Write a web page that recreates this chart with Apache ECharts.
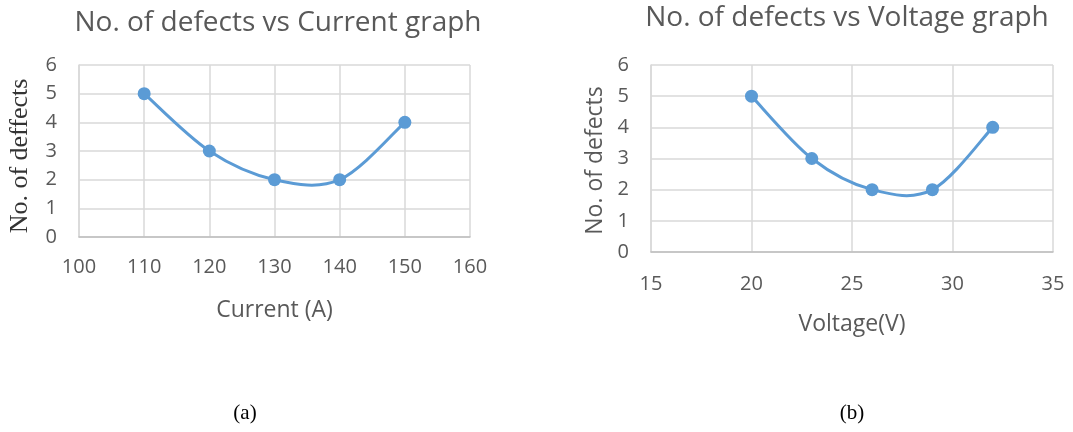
<!DOCTYPE html>
<html>
<head>
<meta charset="utf-8">
<script src="https://cdn.jsdelivr.net/npm/echarts@6/dist/echarts.min.js"></script>
<style>
html,body{margin:0;padding:0;background:#fff;}
#c{width:1073px;height:432px;}
</style>
</head>
<body>
<div id="c"></div>
<script>
var currentValues = [110, 120, 130, 140, 150];
var defectsByCurrent = [5, 3, 2, 2, 4];
var voltageValues = [20, 23, 26, 29, 32];
var defectsByVoltage = [5, 3, 2, 2, 4];
var titles = ['No. of defects vs Current graph', 'No. of defects vs Voltage graph'];
var xNames = ['Current (A)', 'Voltage(V)'];
var yNames = ['No. of deffects', 'No. of defects'];
var captions = ['(a)', '(b)'];

var TXT = '#595959', GRID = '#D9D9D9', BLUE = '#5B9BD5';
var SANS = '"Open Sans", "Liberation Sans", sans-serif';
var SERIF = '"Liberation Serif", "DejaVu Serif", serif';

function pairs(xs, ys) { return xs.map(function (x, i) { return [x, ys[i]]; }); }

function xAxisCfg(idx, min, max, interval, name, margin, gap) {
  return {
    gridIndex: idx, type: 'value', min: min, max: max, interval: interval,
    name: name, nameLocation: 'middle', nameGap: gap,
    nameTextStyle: { color: TXT, fontSize: 23, fontFamily: SANS },
    axisLine: { show: true, lineStyle: { color: '#BFBFBF', width: 1.5 } },
    axisTick: { show: false },
    axisLabel: { color: TXT, fontSize: 20, fontFamily: SANS, margin: margin },
    splitLine: { show: true, lineStyle: { color: GRID, width: 1.5 } }
  };
}
function yAxisCfg(idx, name, serif, gap) {
  return {
    gridIndex: idx, type: 'value', min: 0, max: 6, interval: 1,
    name: name, nameLocation: 'middle', nameGap: gap, nameRotate: 90,
    nameTextStyle: serif
      ? { color: '#333', fontSize: 26, fontFamily: SERIF, padding: [0, 10, 0, 0] }
      : { color: TXT, fontSize: 23, fontFamily: SANS, padding: [0, 4, 0, 0] },
    axisLine: { show: true, lineStyle: { color: GRID, width: 1.5 } },
    axisTick: { show: false },
    axisLabel: { color: TXT, fontSize: 20, fontFamily: SANS, margin: 22 },
    splitLine: { show: true, lineStyle: { color: GRID, width: 1.5 } }
  };
}

// Smoothed curve (Excel-style cardinal spline) drawn through the axes' coordinate system
function curveSeries(idx, xs, ys) {
  return {
    type: 'custom', xAxisIndex: idx, yAxisIndex: idx, data: pairs(xs, ys),
    z: 2, silent: true,
    renderItem: function (params, api) {
      var i = params.dataIndex, n = xs.length;
      if (i >= n - 1) return null;
      var P = function (k) { k = Math.max(0, Math.min(n - 1, k)); return api.coord([xs[k], ys[k]]); };
      var p0 = P(i - 1), p1 = P(i), p2 = P(i + 1), p3 = P(i + 2);
      var t = 1 / 6;
      return {
        type: 'bezierCurve',
        shape: {
          x1: p1[0], y1: p1[1], x2: p2[0], y2: p2[1],
          cpx1: p1[0] + (p2[0] - p0[0]) * t, cpy1: p1[1] + (p2[1] - p0[1]) * t,
          cpx2: p2[0] - (p3[0] - p1[0]) * t, cpy2: p2[1] - (p3[1] - p1[1]) * t
        },
        style: { stroke: BLUE, lineWidth: 3, fill: null }
      };
    }
  };
}
function markerSeries(idx, xs, ys) {
  return {
    type: 'scatter', xAxisIndex: idx, yAxisIndex: idx, data: pairs(xs, ys),
    z: 3, symbol: 'circle', symbolSize: 13, itemStyle: { color: BLUE, opacity: 1 }
  };
}

var chart = echarts.init(document.getElementById('c'), null, { renderer: 'canvas' });
chart.setOption({
  animation: false,
  backgroundColor: '#fff',
  title: [
    { text: titles[0], left: 273, top: 4, textAlign: 'center',
      textStyle: { color: TXT, fontSize: 28, fontWeight: 'normal', fontFamily: SANS } },
    { text: titles[1], left: 842, top: -1, textAlign: 'center',
      textStyle: { color: TXT, fontSize: 28, fontWeight: 'normal', fontFamily: SANS } },
    { text: captions[0], left: 240, top: 398, textAlign: 'center',
      textStyle: { color: '#000', fontSize: 21, fontWeight: 'normal', fontFamily: SERIF } },
    { text: captions[1], left: 847, top: 398, textAlign: 'center',
      textStyle: { color: '#000', fontSize: 21, fontWeight: 'normal', fontFamily: SERIF } }
  ],
  grid: [
    { left: 79, top: 65, width: 391, height: 172, containLabel: false },
    { left: 651, top: 65, width: 402, height: 187, containLabel: false }
  ],
  xAxis: [
    xAxisCfg(0, 100, 160, 10, xNames[0], 20, 62),
    xAxisCfg(1, 15, 35, 5, xNames[1], 22, 61)
  ],
  yAxis: [
    yAxisCfg(0, yNames[0], true, 46),
    yAxisCfg(1, yNames[1], false, 44)
  ],
  series: [
    curveSeries(0, currentValues, defectsByCurrent),
    markerSeries(0, currentValues, defectsByCurrent),
    curveSeries(1, voltageValues, defectsByVoltage),
    markerSeries(1, voltageValues, defectsByVoltage)
  ]
});
</script>
</body>
</html>
